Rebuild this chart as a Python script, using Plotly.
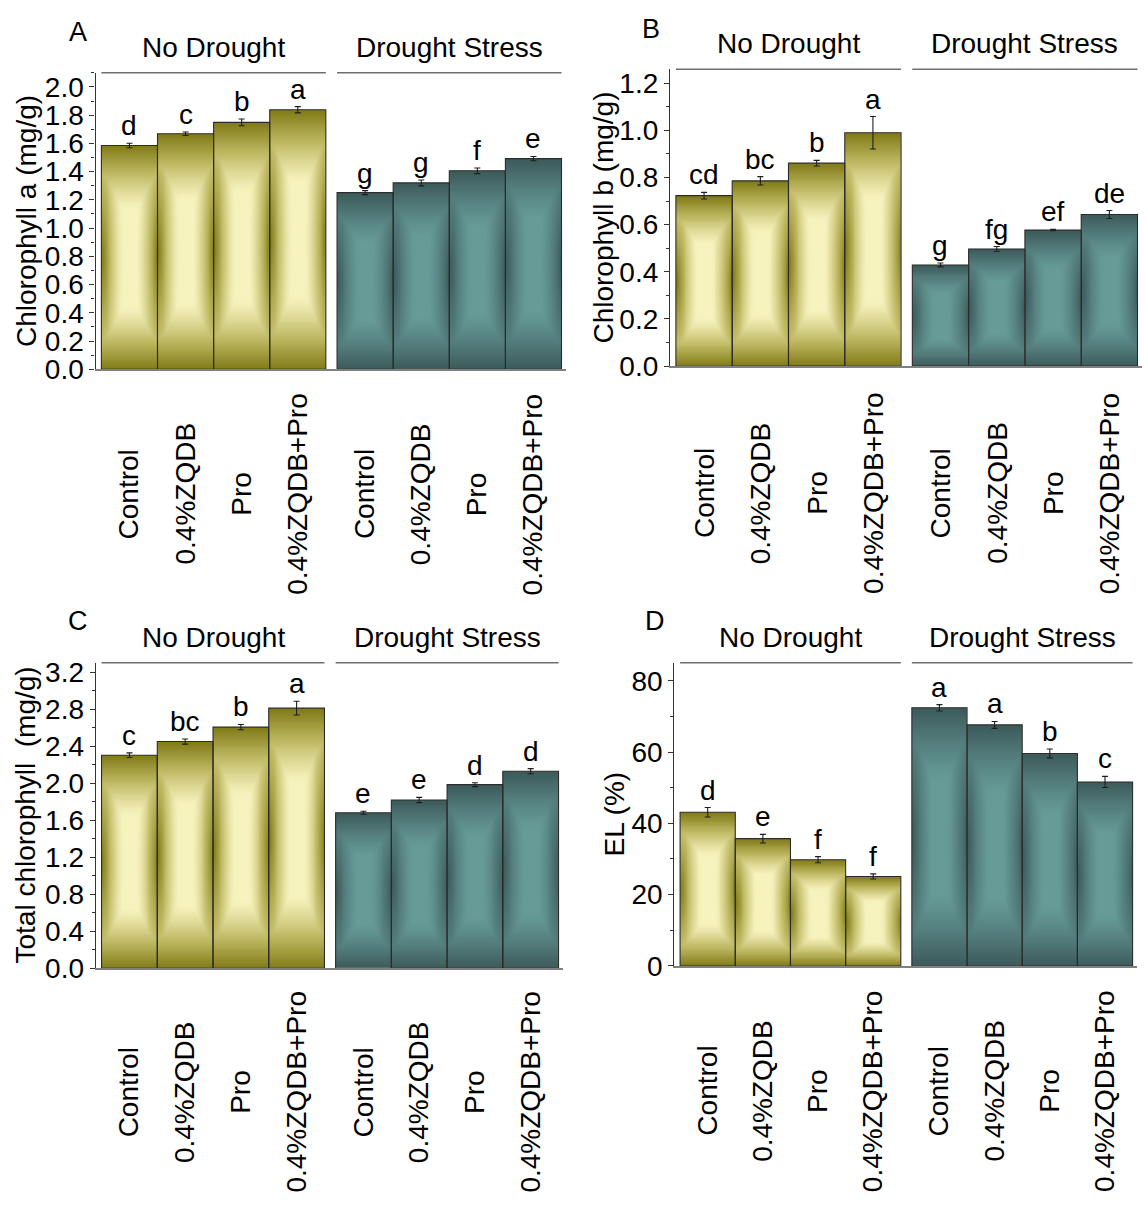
import numpy as np
import plotly.graph_objects as go

# ---------------- data ----------------
treatments = ["Control", "0.4%ZQDB", "Pro", "0.4%ZQDB+Pro"]
conditions = ["No Drought", "Drought Stress"]

chl_a = [1.585, 1.668, 1.749, 1.838, 1.251, 1.320, 1.406, 1.492]
chl_a_err = [0.016, 0.012, 0.024, 0.022, 0.014, 0.021, 0.020, 0.015]
chl_a_sig = ["d", "c", "b", "a", "g", "g", "f", "e"]

chl_b = [0.723, 0.786, 0.861, 0.990, 0.429, 0.497, 0.577, 0.643]
chl_b_err = [0.014, 0.018, 0.012, 0.069, 0.008, 0.010, 0.003, 0.017]
chl_b_sig = ["cd", "bc", "b", "a", "g", "fg", "ef", "de"]

chl_total = [2.302, 2.450, 2.606, 2.811, 1.680, 1.818, 1.984, 2.129]
chl_total_err = [0.025, 0.028, 0.028, 0.074, 0.016, 0.028, 0.021, 0.028]
chl_total_sig = ["c", "bc", "b", "a", "e", "e", "d", "d"]

el = [43.1, 35.7, 29.8, 25.1, 72.4, 67.6, 59.6, 51.6]
el_err = [1.33, 1.20, 0.87, 0.73, 0.90, 0.96, 1.24, 1.56]
el_sig = ["d", "e", "f", "f", "a", "a", "b", "c"]

# ---------------- style ----------------
W, H = 1146, 1213
FONT = "Liberation Sans, Arial, sans-serif"
FS = 28
GROUP_GAP = 0.2
XRANGE = [-0.605, 7.78]

OLIVE = [[0.0, "rgb(128,122,22)"], [0.5, "rgb(190,184,98)"], [1.0, "rgb(247,243,190)"]]
TEAL = [[0.0, "rgb(60,90,90)"], [1.0, "rgb(102,155,152)"]]


def px(x):
    return x / W


def py(y):
    return 1 - y / H


panels = [
    dict(letter="A", title="Chlorophyll a (mg/g)", vals=chl_a, errs=chl_a_err, sig=chl_a_sig,
         ymax=2.1, dtick=0.2, minor=0.1, fmt=".1f",
         xdom=(95.5, 566), ydom=(370, 68), title_x=26, letter_xy=(78, 26), label_y=497),
    dict(letter="B", title="Chlorophyll b (mg/g)", vals=chl_b, errs=chl_b_err, sig=chl_b_sig,
         ymax=1.26, dtick=0.2, minor=0.1, fmt=".1f",
         xdom=(670, 1142), ydom=(366.7, 64.3), title_x=604, letter_xy=(651, 23), label_y=496),
    dict(letter="C", title="Total chlorophyll\u00a0 (mg/g)", vals=chl_total, errs=chl_total_err,
         sig=chl_total_sig, ymax=3.3, dtick=0.4, minor=0.2, fmt=".1f",
         xdom=(95.7, 563), ydom=(980, 669), title_x=26, letter_xy=(78, 626), label_y=1106),
    dict(letter="D", title="EL (%)", vals=el, errs=el_err, sig=el_sig,
         ymax=85, dtick=20, minor=10, fmt="d",
         xdom=(674.3, 1137), ydom=(977.7, 669), title_x=614, letter_xy=(655, 626), label_y=1105),
]

# bar centres: two groups of four, separated by a small gap
xs = [i + GROUP_GAP * (i // len(treatments)) for i in range(len(treatments) * len(conditions))]
labels = treatments * len(conditions)


def shade(nx, ny):
    """Bow-tie shading: dark sides and ends, bright centre column."""
    u = np.abs((np.arange(nx) + 0.5) / nx * 2 - 1)
    t = (np.arange(ny) + 0.5) / ny
    U, T = np.meshgrid(u, t)
    r = np.sqrt(((1 - U) / 0.75) ** 2 + ((T - 0.5) / 0.85) ** 2)
    side = np.clip(1 - r, 0, 1) ** 1.4
    ends = np.clip(1 - np.minimum(T, 1 - T) / 0.28, 0, 1) ** 1.2
    return 1 - np.maximum(side, ends)


fig = go.Figure()
layout = dict(
    width=W, height=H, margin=dict(l=0, r=0, t=0, b=0),
    paper_bgcolor="white", plot_bgcolor="white", showlegend=False,
    font=dict(family=FONT, size=FS, color="black"),
)
annotations = []
shapes = []

NX, NY = 30, 90
Z = shade(NX, NY)

for k, p in enumerate(panels):
    sfx = "" if k == 0 else str(k + 1)
    xa, ya = "x" + sfx, "y" + sfx
    # gradient-filled bars
    for i, (xc, v) in enumerate(zip(xs, p["vals"])):
        cs = OLIVE if i < len(treatments) else TEAL
        fig.add_trace(go.Heatmap(
            x=np.linspace(xc - 0.5, xc + 0.5, NX + 1),
            y=np.linspace(0, v, NY + 1),
            z=Z, zmin=0, zmax=1, colorscale=cs, showscale=False,
            zsmooth="best", hoverinfo="skip", xaxis=xa, yaxis=ya,
        ))
    # outlines and error bars
    fig.add_trace(go.Bar(
        x=xs, y=p["vals"], width=1.0,
        marker=dict(color="rgba(0,0,0,0)", line=dict(color="#2b2b2b", width=1.1)),
        error_y=dict(type="data", array=p["errs"], color="#1e1e1e", thickness=1.1, width=3),
        xaxis=xa, yaxis=ya, hoverinfo="skip",
    ))

    layout["xaxis" + sfx] = dict(
        domain=[px(p["xdom"][0]), px(p["xdom"][1])], range=XRANGE, anchor=ya,
        showline=True, linecolor="#808080", linewidth=2, ticks="", showticklabels=False,
        showgrid=False, zeroline=False, fixedrange=True,
    )
    layout["yaxis" + sfx] = dict(
        domain=[py(p["ydom"][0]), py(p["ydom"][1])], range=[0, p["ymax"]], anchor=xa,
        showline=True, linecolor="#333333", linewidth=1.2, ticks="outside", ticklen=5,
        tickcolor="#333333", tickwidth=1.2, dtick=p["dtick"], tick0=0, tickformat=p["fmt"],
        minor=dict(dtick=p["minor"], ticks="outside", ticklen=3, tickcolor="#333333", tickwidth=1),
        showgrid=False, zeroline=False, fixedrange=True,
        tickfont=dict(family=FONT, size=FS),
    )

    # significance letters
    for xc, v, e, s in zip(xs, p["vals"], p["errs"], p["sig"]):
        annotations.append(dict(x=xc, y=v + e, xref=xa, yref=ya, text=s, showarrow=False,
                                xanchor="center", yanchor="bottom", yshift=0,
                                font=dict(family=FONT, size=FS)))

    # condition headers with rules
    n = len(treatments)
    for g, cond in enumerate(conditions):
        x0 = xs[g * n] - 0.5
        x1 = xs[g * n + n - 1] + 0.5
        shapes.append(dict(type="line", xref=xa, yref=ya + " domain", x0=x0, x1=x1, y0=1, y1=1,
                           line=dict(color="#6e6e6e", width=1.5)))
        annotations.append(dict(x=(x0 + x1) / 2, y=1, xref=xa, yref=ya + " domain", text=cond,
                                showarrow=False, xanchor="center", yanchor="bottom", yshift=8,
                                font=dict(family=FONT, size=FS)))

    # treatment labels, rotated and centred on a common line
    for xc, lab in zip(xs, labels):
        annotations.append(dict(x=xc, y=py(p["label_y"]), xref=xa, yref="paper", text=lab,
                                textangle=-90, showarrow=False, xanchor="center", yanchor="middle",
                                font=dict(family=FONT, size=FS)))

    # axis title
    yc = (py(p["ydom"][0]) + py(p["ydom"][1])) / 2
    annotations.append(dict(x=px(p["title_x"]), y=yc, xref="paper", yref="paper", text=p["title"],
                            textangle=-90, showarrow=False, xanchor="center", yanchor="middle",
                            font=dict(family=FONT, size=FS)))

    # panel letter
    lx, ly = p["letter_xy"]
    annotations.append(dict(x=px(lx), y=py(ly), xref="paper", yref="paper", text=p["letter"],
                            showarrow=False, xanchor="center", yanchor="middle",
                            font=dict(family=FONT, size=FS - 1)))

layout["annotations"] = annotations
layout["shapes"] = shapes
fig.update_layout(**layout)
fig.write_html("out.html")
